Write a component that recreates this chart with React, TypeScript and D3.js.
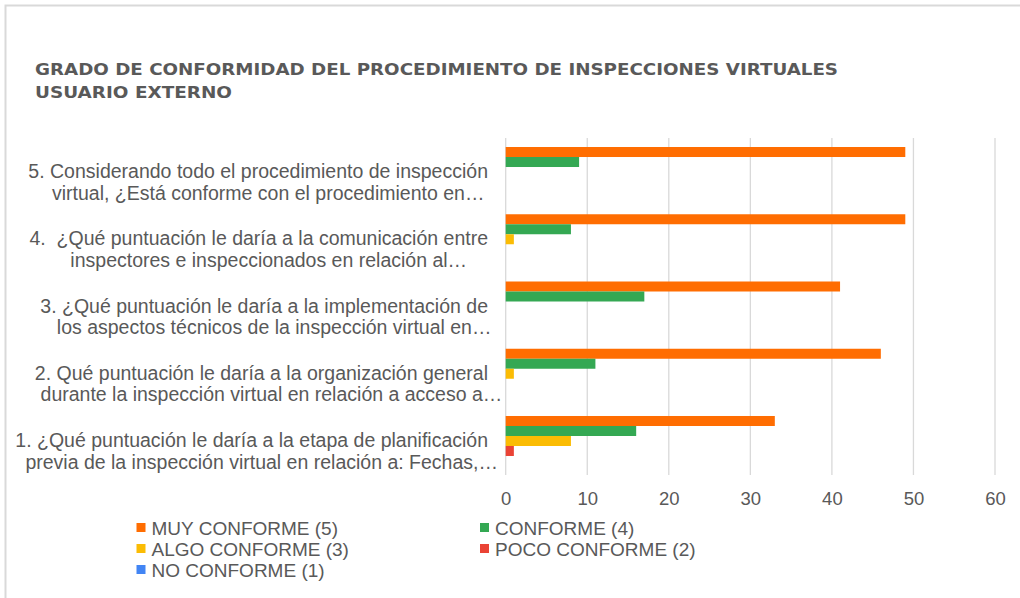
import React, { useEffect, useRef } from "react";
import * as d3 from "d3";

const titleLines = [
  "GRADO DE CONFORMIDAD DEL PROCEDIMIENTO DE INSPECCIONES VIRTUALES",
  "USUARIO EXTERNO",
];

// categories from top to bottom
const categories = ["q5", "q4", "q3", "q2", "q1"];
const categoryLabels: string[][] = [
  ["5. Considerando todo el procedimiento de inspección", "virtual, ¿Está conforme con el procedimiento en…"],
  ["4.  ¿Qué puntuación le daría a la comunicación entre", "inspectores e inspeccionados en relación al…"],
  ["3. ¿Qué puntuación le daría a la implementación de", "los aspectos técnicos de la inspección virtual en…"],
  ["2. Qué puntuación le daría a la organización general", "durante la inspección virtual en relación a acceso a…"],
  ["1. ¿Qué puntuación le daría a la etapa de planificación", "previa de la inspección virtual en relación a: Fechas,…"],
];

const seriesNames = [
  "MUY CONFORME (5)",
  "CONFORME (4)",
  "ALGO CONFORME (3)",
  "POCO CONFORME (2)",
  "NO CONFORME (1)",
];
const seriesColors = ["#FF6D01", "#34A853", "#FBBC04", "#EA4335", "#4285F4"];

// values per category (same order as categories) for each series
const muyConforme = [49, 49, 41, 46, 33];
const conforme = [9, 8, 17, 11, 16];
const algoConforme = [0, 1, 0, 1, 8];
const pocoConforme = [0, 0, 0, 0, 1];
const noConforme = [0, 0, 0, 0, 0];
const seriesValues = [muyConforme, conforme, algoConforme, pocoConforme, noConforme];

const xTicks = [0, 10, 20, 30, 40, 50, 60];

export default function App() {
  const ref = useRef<SVGSVGElement | null>(null);

  useEffect(() => {
    document.body.style.margin = "0";
    const svg = d3.select(ref.current);
    svg.selectAll("*").remove();

    const W = 1020, H = 598;
    const left = 505.7, right = 995, top = 138, bottom = 475;
    const textColor = "#595959";
    const labelFont = "'Liberation Sans', Arial, sans-serif";

    svg.append("rect").attr("width", W).attr("height", H).attr("fill", "#fff");
    // frame
    svg.append("rect")
      .attr("x", 5.5).attr("y", 5.5).attr("width", W + 20).attr("height", H + 20)
      .attr("fill", "none").attr("stroke", "#d9d9d9").attr("stroke-width", 2);

    // title
    const titleLens = [803, 197];
    titleLines.forEach((t, i) => {
      svg.append("text")
        .attr("x", 35).attr("y", 75 + i * 23)
        .attr("font-family", "'DejaVu Sans', Verdana, sans-serif")
        .attr("font-weight", "bold").attr("font-size", 16.5)
        .attr("fill", textColor)
        .attr("textLength", titleLens[i]).attr("lengthAdjust", "spacingAndGlyphs")
        .text(t);
    });

    const x = d3.scaleLinear().domain([0, 60]).range([left, right]);
    const y = d3.scaleBand<string>().domain(categories).range([top, bottom])
      .paddingInner(0.2565).paddingOuter(0.134);
    const ys = d3.scaleBand<number>().domain(d3.range(seriesNames.length)).range([0, y.bandwidth()]);

    // gridlines
    svg.append("g").selectAll("line").data(xTicks).join("line")
      .attr("x1", (d) => x(d)).attr("x2", (d) => x(d))
      .attr("y1", top).attr("y2", bottom)
      .attr("stroke", "#d9d9d9").attr("stroke-width", 1.3);

    // bars
    seriesValues.forEach((vals, si) => {
      svg.append("g").selectAll("rect").data(vals.map((v, ci) => ({ v, ci })).filter((d) => d.v > 0)).join("rect")
        .attr("x", x(0))
        .attr("y", (d) => (y(categories[d.ci]) as number) + (ys(si) as number))
        .attr("width", (d) => x(d.v) - x(0))
        .attr("height", ys.bandwidth())
        .attr("fill", seriesColors[si]);
    });

    // x axis
    const axis = svg.append("g").attr("transform", `translate(0,${bottom})`)
      .call(d3.axisBottom(x).tickValues(xTicks).tickSize(0).tickPadding(17).tickFormat(d3.format("d")));
    axis.select(".domain").remove();
    axis.selectAll("text").attr("font-family", labelFont).attr("font-size", 18.5).attr("fill", textColor);

    // category labels
    categories.forEach((c, i) => {
      const cy = (y(c) as number) + y.bandwidth() / 2;
      const [l1, l2] = categoryLabels[i];
      const t1 = svg.append("text")
        .attr("x", 488).attr("y", cy + 6)
        .attr("text-anchor", "end")
        .attr("font-family", labelFont).attr("font-size", 19.5)
        .attr("fill", textColor).style("white-space", "pre")
        .text(l1);
      const w1 = (t1.node() as SVGTextElement).getComputedTextLength();
      svg.append("text")
        .attr("x", 488 - w1 / 2 + 10).attr("y", cy + 27.6)
        .attr("text-anchor", "middle")
        .attr("font-family", labelFont).attr("font-size", 19.5)
        .attr("fill", textColor)
        .text(l2);
    });

    // legend
    const legCols = [136.5, 480];
    seriesNames.forEach((name, i) => {
      const col = i % 2, row = Math.floor(i / 2);
      const gx = legCols[col];
      const gy = 523 + row * 21;
      svg.append("rect").attr("x", gx).attr("y", gy).attr("width", 9).attr("height", 9)
        .attr("fill", seriesColors[i]);
      svg.append("text").attr("x", gx + 15).attr("y", gy + 12.3)
        .attr("font-family", labelFont).attr("font-size", 19)
        .attr("fill", textColor).text(name);
    });
  }, []);

  return (
    <svg ref={ref} width={1020} height={598}
      style={{ position: "absolute", left: 0, top: 0, display: "block" }} />
  );
}
